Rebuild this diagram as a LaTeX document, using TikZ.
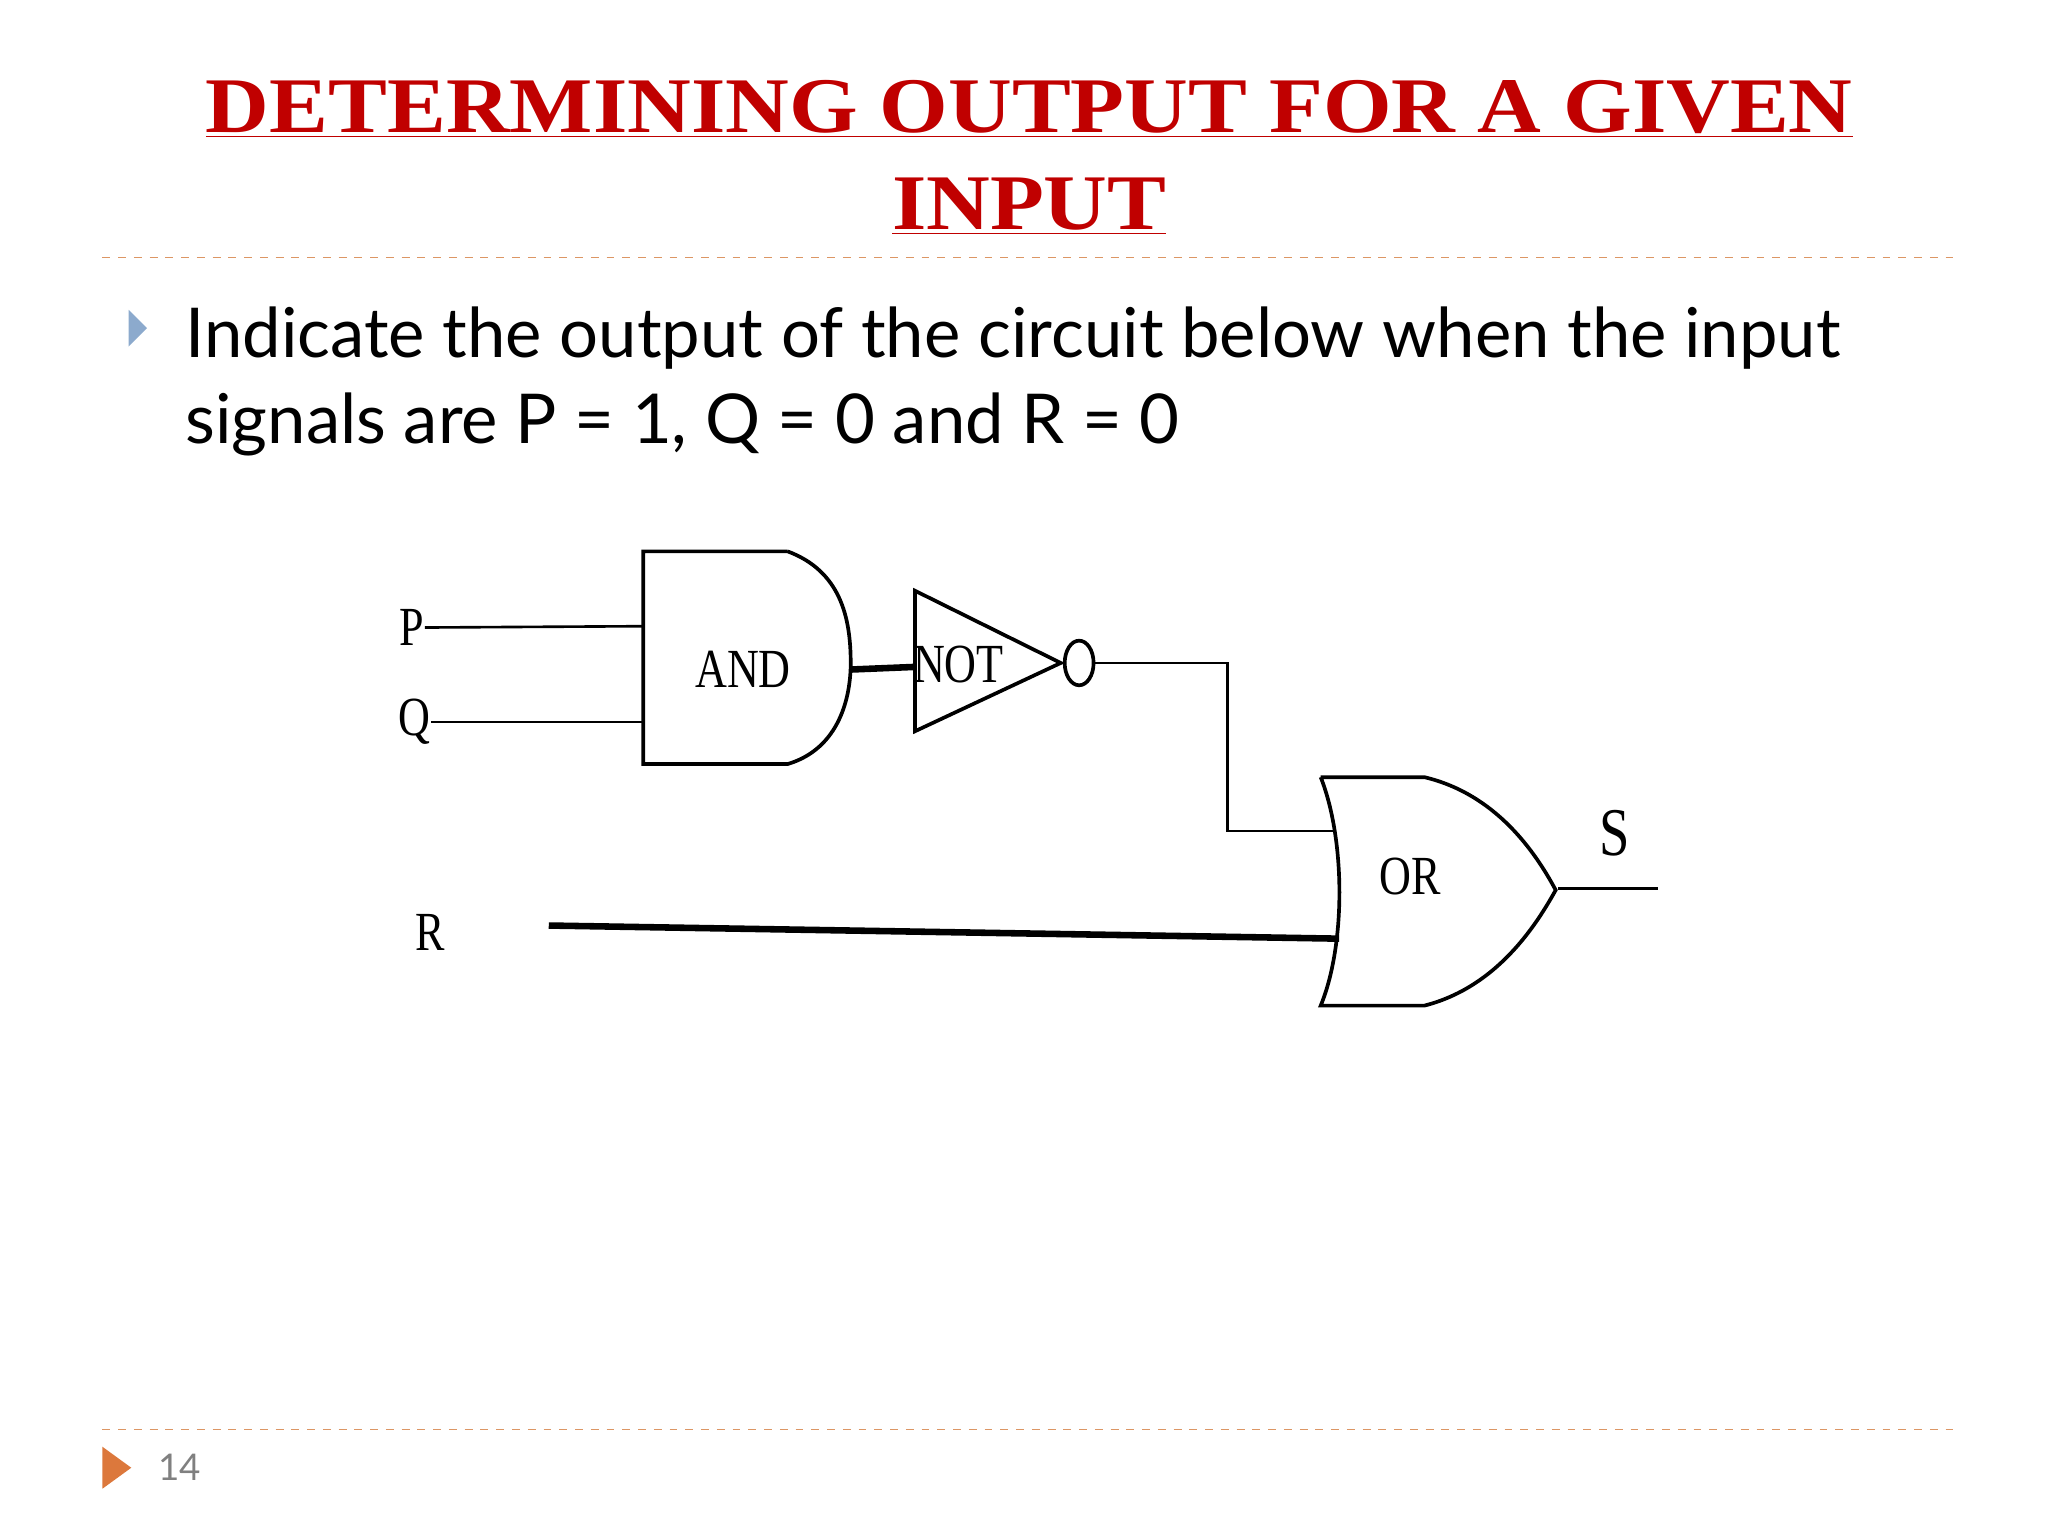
\documentclass[tikz,border=0pt]{standalone}
\usepackage{fontspec}
\setmainfont{Liberation Serif}
\newfontfamily\bodyfont{Lato}
\definecolor{titlered}{RGB}{192,0,0}
\definecolor{dashor}{RGB}{220,150,100}
\definecolor{bul}{RGB}{140,170,205}
\definecolor{foot}{RGB}{220,120,60}
\begin{document}
\begin{tikzpicture}[x=0.5pt,y=-0.5pt,
  wire/.style={line width=1pt},
  gate/.style={line width=1.4pt},
  glabel/.style={font=\fontsize{21}{21}\selectfont, xscale=0.8, inner sep=0}]
\useasboundingbox (0,0) rectangle (1560,1170);
% title
\node[font=\fontsize{30}{38}\selectfont\bfseries, text=titlered, align=center, xscale=1.12] (title) at (784,120)
 {\underline{DETERMINING OUTPUT FOR A GIVEN}\\[-1pt]\underline{INPUT}};
\draw[dashor, dashed, line width=0.6pt] (78,196) -- (1490,196);
\draw[dashor, dashed, line width=0.6pt] (78,1089) -- (1490,1089);
\fill[bul] (98,236) -- (112,250) -- (98,264) -- cycle;
\node[anchor=north west, font=\bodyfont\fontsize{26.2}{33}\selectfont, align=left, inner sep=0] (body) at (141,233)
 {Indicate the output of the circuit below when the input\\signals are P = 1, Q = 0 and R = 0};
\fill[foot] (78,1102) -- (100,1118) -- (78,1134) -- cycle;
\node[font=\bodyfont\fontsize{14}{14}\selectfont, text=gray] (pg) at (137,1118) {14};
% circuit
\node[glabel] (P) at (314,478) {P};
\node[glabel] (Q) at (316,550) {Q};
\node[glabel] (R) at (328,710) {R};
\node[glabel, font=\fontsize{26}{26}\selectfont] (S) at (1230,635) {S};
\coordinate (andP) at (490,477);
\coordinate (andQ) at (490,550);
\coordinate (andO) at (648,510);
\draw[gate] (600,420) -- (490,420) -- (490,582) -- (600,582)
  .. controls (640,570) and (648,530) .. (648,505)
  .. controls (648,470) and (640,435) .. (600,420);
\node[glabel] (andl) at (566,510) {AND};
\draw[gate] (697,450) -- (697,557) -- (808,505) -- cycle;
\node[glabel] (notl) at (730,506) {NOT};
\draw[gate] (822,505) ellipse (11 and 17);
\coordinate (notI) at (697,508);
\coordinate (bub) at (834,505);
\draw[gate] (1006,592) -- (1085,592) .. controls (1140,605) and (1170,650) .. (1185,678)
  .. controls (1170,705) and (1140,752) .. (1085,766) -- (1006,766)
  .. controls (1025,720) and (1025,640) .. (1006,592);
\node[glabel] (orl) at (1074,668) {OR};
\coordinate (or1) at (1015,633);
\coordinate (or2) at (1020,715);
\coordinate (orO) at (1187,677);
\coordinate (Send) at (1263,677);
\coordinate (Rs) at (418,705);
\draw[wire] (P.east) -- (andP);
\draw[wire] (Q.east) -- (andQ);
\draw[line width=2.5pt] (andO) -- (notI);
\draw[wire] (bub) -- (935,505) -- (935,633) -- (or1);
\draw[line width=2.5pt] (Rs) -- (or2);
\draw[wire] (orO) -- (Send);
\end{tikzpicture}
\end{document}
